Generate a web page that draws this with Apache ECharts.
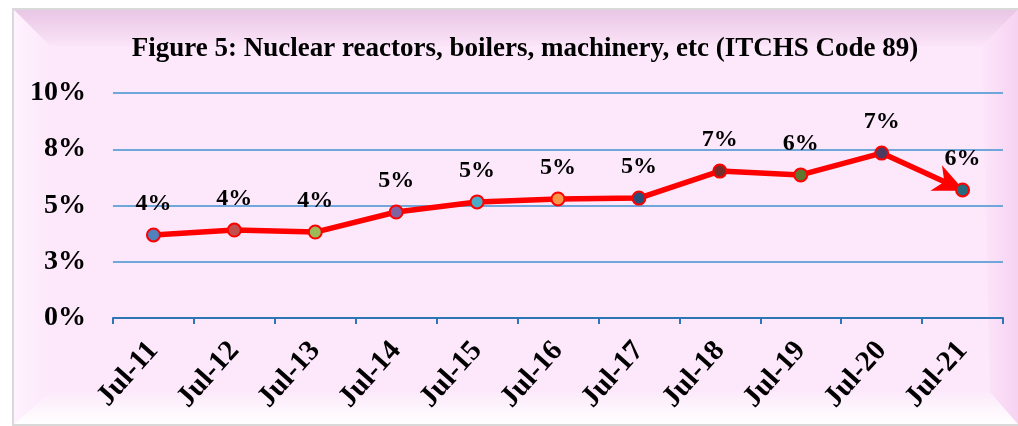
<!DOCTYPE html>
<html>
<head>
<meta charset="utf-8">
<script src="https://cdn.jsdelivr.net/npm/echarts@6/dist/echarts.min.js"></script>
<style>
  html, body { margin: 0; padding: 0; background: #ffffff; }
  #main { width: 1018px; height: 426px; }
</style>
</head>
<body>
<div id="main"></div>
<script>
// data
var categories = ['Jul-11', 'Jul-12', 'Jul-13', 'Jul-14', 'Jul-15', 'Jul-16',
                  'Jul-17', 'Jul-18', 'Jul-19', 'Jul-20', 'Jul-21'];
var shareValues = [3.69, 3.91, 3.82, 4.71, 5.16, 5.29, 5.33, 6.53, 6.36, 7.33, 5.69];
var yTicks = [0, 2.5, 5, 7.5, 10];

// office palette for the markers
var markerColors = ['#4F81BD', '#C0504D', '#9BBB59', '#8064A2', '#4BACC6', '#F79646',
                    '#2C4D75', '#772C2A', '#5F7530', '#4D3B62', '#276A7C'];

var serif = '"Liberation Serif", "Times New Roman", serif';

var myChart = echarts.init(document.getElementById('main'));

var points = shareValues.map(function (v, i) {
    return {
        value: v,
        itemStyle: { color: markerColors[i], borderColor: '#FF0000', borderWidth: 2 }
    };
});

var last = categories.length - 1;

// arrow head at the end of the last segment, placed through the axes
function renderArrow(params, api) {
    var p0 = api.coord([api.value(0), api.value(1)]);
    var p1 = api.coord([api.value(2), api.value(3)]);
    var a = Math.atan2(p1[1] - p0[1], p1[0] - p0[0]);
    var len = 29, half = 14, notch = 9;
    var ca = Math.cos(a), sa = Math.sin(a);
    function pt(back, side) {
        return [p1[0] - back * ca - side * sa, p1[1] - back * sa + side * ca];
    }
    return {
        type: 'polygon',
        shape: { points: [pt(-2, 0), pt(len, -half), pt(len - notch, 0), pt(len, half)] },
        style: { fill: '#FF0000' }
    };
}

var option = {
    animation: false,
    backgroundColor: '#ffffff',
    graphic: [
        // frame with bevel
        { type: 'rect', z: -10, shape: { x: 13, y: 9, width: 1005, height: 416 },
          style: { fill: '#FCE8FA', stroke: '#D9D9D9', lineWidth: 2 } },
        { type: 'polygon', z: -9, shape: { points: [[14, 10], [1018, 10], [982, 46], [50, 46]] },
          style: { fill: new echarts.graphic.LinearGradient(0, 0, 0, 1, [
              { offset: 0, color: '#E8C6E5' }, { offset: 1, color: '#FBE4F8' }]) } },
        { type: 'polygon', z: -9, shape: { points: [[14, 10], [50, 46], [50, 392], [14, 424]] },
          style: { fill: new echarts.graphic.LinearGradient(0, 0, 1, 0, [
              { offset: 0, color: '#FFF2FE' }, { offset: 1, color: '#FCE8FA' }]) } },
        { type: 'polygon', z: -9, shape: { points: [[14, 424], [50, 392], [990, 392], [1018, 424]] },
          style: { fill: new echarts.graphic.LinearGradient(0, 0, 0, 1, [
              { offset: 0, color: '#FCEAFA' }, { offset: 1, color: '#FFFFFF' }]) } },
        { type: 'polygon', z: -9, shape: { points: [[1018, 10], [982, 46], [990, 392], [1018, 424]] },
          style: { fill: new echarts.graphic.LinearGradient(0, 0, 1, 0, [
              { offset: 0, color: '#FCE6FA' }, { offset: 1, color: '#F7D2F2' }]) } }
    ],
    title: {
        text: 'Figure 5: Nuclear reactors, boilers, machinery, etc (ITCHS Code 89)',
        left: 520,
        textAlign: 'center',
        top: 31,
        textStyle: { fontFamily: serif, fontWeight: 'bold', fontSize: 27, color: '#000' }
    },
    grid: { left: 113, right: 15, top: 93, bottom: 108 },
    xAxis: {
        type: 'category',
        data: categories,
        boundaryGap: true,
        axisLine: { lineStyle: { color: '#2E75B6', width: 2 } },
        axisTick: { show: true, length: 6, interval: 0, lineStyle: { color: '#2E75B6', width: 2 } },
        axisLabel: {
            interval: 0, rotate: 48, margin: 28,
            fontFamily: serif, fontWeight: 'bold', fontSize: 29, color: '#000'
        },
        splitLine: { show: false }
    },
    yAxis: {
        type: 'value',
        min: yTicks[0],
        max: yTicks[yTicks.length - 1],
        interval: yTicks[1] - yTicks[0],
        axisLine: { show: false },
        axisTick: { show: false },
        axisLabel: {
            margin: 27,
            fontFamily: serif, fontWeight: 'bold', fontSize: 28, color: '#000',
            formatter: function (v) { return Math.round(v) + '%'; }
        },
        splitLine: { lineStyle: { color: '#6FA7DA', width: 2 } }
    },
    series: [
        {
            type: 'custom',
            z: 2,
            silent: true,
            renderItem: renderArrow,
            data: [[last - 1, shareValues[last - 1], last, shareValues[last]]],
            encode: { x: [0, 2], y: [1, 3] }
        },
        {
            type: 'line',
            z: 3,
            data: points,
            symbol: 'circle',
            symbolSize: 13,
            lineStyle: { color: '#FF0000', width: 5.5 },
            label: {
                show: true,
                position: 'top',
                distance: 12,
                fontFamily: serif, fontWeight: 'bold', fontSize: 24, color: '#000',
                formatter: function (p) { return Math.round(p.value) + '%'; }
            },
            emphasis: { disabled: true }
        }
    ]
};

myChart.setOption(option);
</script>
</body>
</html>
